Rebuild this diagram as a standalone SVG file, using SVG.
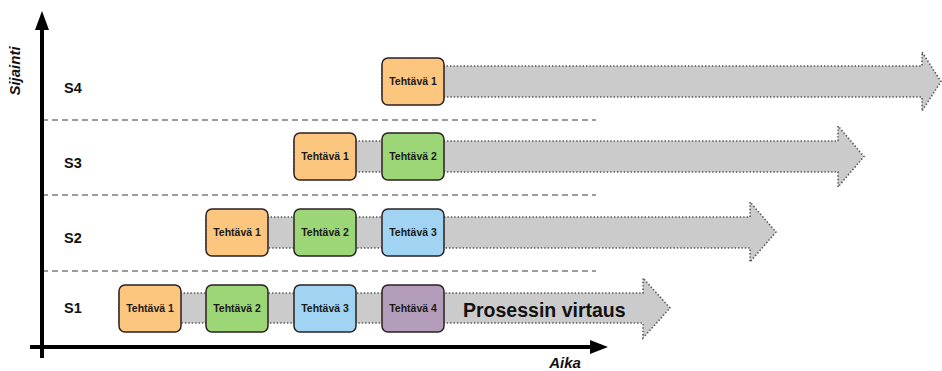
<svg xmlns="http://www.w3.org/2000/svg" width="942" height="371" viewBox="0 0 942 371">
<style>
.flow{fill:#cbcbcb;stroke:#555;stroke-width:1.6;stroke-dasharray:1.4 2;}
.box{stroke:#2a2020;stroke-width:1.5;}
.o{fill:#FCC67E;}
.g{fill:#9CD677;}
.b{fill:#A0D4F2;}
.p{fill:#B49CBB;}
.t{font-family:"Liberation Sans",Arial,sans-serif;font-weight:bold;font-size:10.5px;fill:#1a1a1a;text-anchor:middle;}
.s{font-family:"Liberation Sans",Arial,sans-serif;font-weight:bold;font-size:14.5px;fill:#111;}
.ax{font-family:"Liberation Sans",Arial,sans-serif;font-weight:bold;font-style:italic;font-size:15px;fill:#111;}
.sep{stroke:#3a3a3a;stroke-width:1.1;stroke-dasharray:6 4;fill:none;}
</style>
<rect width="942" height="371" fill="#fff"/>
<g id="flows">
<path class="flow" d="M382 66 H922 V52 L941 81.5 L922 111 V97 H382 Z"/>
<path class="flow" d="M294 141 H838 V126 L864 156.5 L838 187 V172 H294 Z"/>
<path class="flow" d="M206 217 H750 V202 L776 232 L750 262 V248 H206 Z"/>
<path class="flow" d="M119 293 H643 V278 L670 308 L643 338 V323 H119 Z"/>
</g>
<g id="separators">
<line class="sep" x1="42" y1="120" x2="596" y2="120"/>
<line class="sep" x1="42" y1="195" x2="596" y2="195"/>
<line class="sep" x1="42" y1="271" x2="596" y2="271"/>
</g>
<g id="axes">
<line x1="42" y1="28" x2="42" y2="358" stroke="#000" stroke-width="4"/>
<polygon points="42,11 35,30 49,30" fill="#000"/>
<line x1="30" y1="347" x2="592" y2="347" stroke="#000" stroke-width="4"/>
<polygon points="608,347 590,340 590,354" fill="#000"/>
<text class="ax" transform="translate(20,71) rotate(-90)" text-anchor="middle">Sijainti</text>
<text class="ax" x="565" y="368" text-anchor="middle">Aika</text>
</g>
<g id="row-labels">
<text class="s" x="64" y="93">S4</text>
<text class="s" x="64" y="168">S3</text>
<text class="s" x="64" y="243">S2</text>
<text class="s" x="64" y="313">S1</text>
</g>
<g id="s4-t1"><rect class="box o" x="382" y="58" width="62" height="47" rx="6"/><text class="t" x="413" y="85">Tehtävä 1</text></g>
<g id="s3-t1"><rect class="box o" x="294" y="133" width="62" height="47" rx="6"/><text class="t" x="325" y="160">Tehtävä 1</text></g>
<g id="s3-t2"><rect class="box g" x="382" y="133" width="62" height="47" rx="6"/><text class="t" x="413" y="160">Tehtävä 2</text></g>
<g id="s2-t1"><rect class="box o" x="206" y="209" width="62" height="47" rx="6"/><text class="t" x="237" y="236">Tehtävä 1</text></g>
<g id="s2-t2"><rect class="box g" x="294" y="209" width="62" height="47" rx="6"/><text class="t" x="325" y="236">Tehtävä 2</text></g>
<g id="s2-t3"><rect class="box b" x="382" y="209" width="62" height="47" rx="6"/><text class="t" x="413" y="236">Tehtävä 3</text></g>
<g id="s1-t1"><rect class="box o" x="119" y="285" width="62" height="47" rx="6"/><text class="t" x="150" y="312">Tehtävä 1</text></g>
<g id="s1-t2"><rect class="box g" x="206" y="285" width="62" height="47" rx="6"/><text class="t" x="237" y="312">Tehtävä 2</text></g>
<g id="s1-t3"><rect class="box b" x="294" y="285" width="62" height="47" rx="6"/><text class="t" x="325" y="312">Tehtävä 3</text></g>
<g id="s1-t4"><rect class="box p" x="382" y="285" width="62" height="47" rx="6"/><text class="t" x="413" y="312">Tehtävä 4</text></g>
<g id="flow-label"><text x="463" y="317" font-family="Liberation Sans,Arial,sans-serif" font-weight="bold" font-size="19.5" fill="#111">Prosessin virtaus</text></g>
</svg>
